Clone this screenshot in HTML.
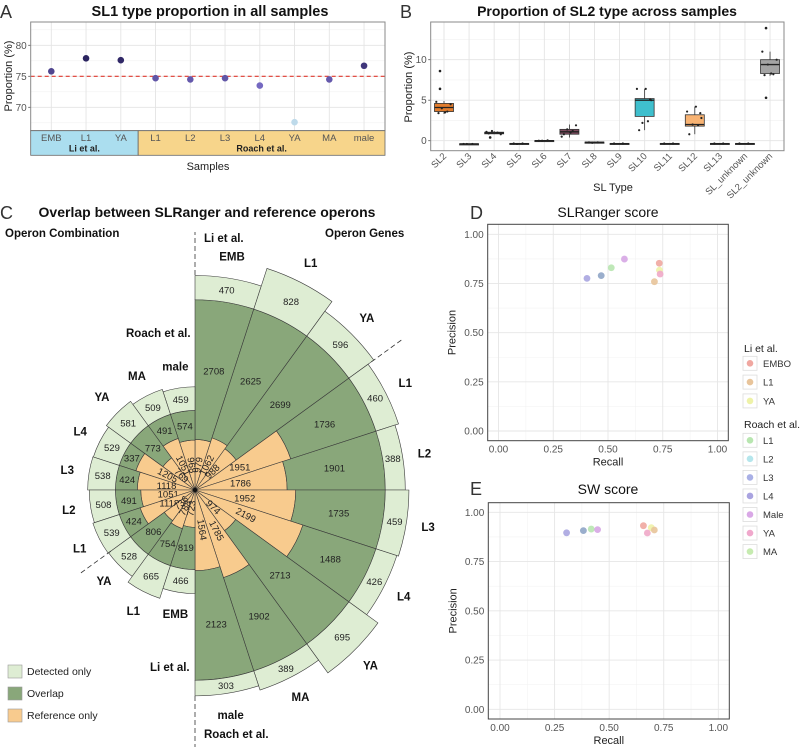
<!DOCTYPE html>
<html><head><meta charset="utf-8"><title>SLRanger figure</title>
<style>
html,body{margin:0;padding:0;background:#fff;}
svg{display:block;font-family:"Liberation Sans",Arial,sans-serif;}
</style></head>
<body>
<svg id="fig" width="800" height="747" viewBox="0 0 800 747">
  <text x="0" y="18" font-size="18" fill="#333">A</text>
  <text x="210" y="16" font-size="14.5" font-weight="bold" text-anchor="middle" fill="#111">SL1 type proportion in all samples</text>
  <text x="208" y="170" font-size="11" text-anchor="middle" fill="#222">Samples</text>
  <text transform="translate(12,76) rotate(-90)" font-size="11" text-anchor="middle" fill="#222">Proportion (%)</text>

  <text x="400" y="18" font-size="18" fill="#333">B</text>
  <text x="607" y="16" font-size="14" font-weight="bold" text-anchor="middle" fill="#111">Proportion of SL2 type across samples</text>
  <text x="613" y="191" font-size="11" text-anchor="middle" fill="#222">SL Type</text>
  <text transform="translate(412,87) rotate(-90)" font-size="11" text-anchor="middle" fill="#222">Proportion (%)</text>

  <text x="0" y="219" font-size="18" fill="#333">C</text>
  <text x="207" y="217" font-size="14" font-weight="bold" text-anchor="middle" fill="#111">Overlap between SLRanger and reference operons</text>
  <text x="5" y="237" font-size="11.5" font-weight="bold" fill="#111">Operon Combination</text>
  <text x="325" y="237" font-size="11.5" font-weight="bold" fill="#111">Operon Genes</text>
  <text x="204" y="242" font-size="11.5" font-weight="bold" fill="#111">Li et al.</text>
  <text x="126" y="337" font-size="11.5" font-weight="bold" fill="#111">Roach et al.</text>
  <text x="150" y="671" font-size="11.5" font-weight="bold" fill="#111">Li et al.</text>
  <text x="204" y="738" font-size="11.5" font-weight="bold" fill="#111">Roach et al.</text>

  <g>
    <rect x="8" y="665" width="14" height="13" fill="#deedd3" stroke="#999" stroke-width="0.6"/>
    <text x="27" y="675" font-size="10.5" fill="#222">Detected only</text>
    <rect x="8" y="687" width="14" height="13" fill="#89a77a" stroke="#999" stroke-width="0.6"/>
    <text x="27" y="697" font-size="10.5" fill="#222">Overlap</text>
    <rect x="8" y="709" width="14" height="13" fill="#f8cb8e" stroke="#999" stroke-width="0.6"/>
    <text x="27" y="719" font-size="10.5" fill="#222">Reference only</text>
  </g>

  <text x="470" y="219" font-size="18" fill="#333">D</text>
  <text x="608" y="217" font-size="14" text-anchor="middle" fill="#111">SLRanger score</text>
  <text x="470" y="495" font-size="18" fill="#333">E</text>
  <text x="608" y="494" font-size="14" text-anchor="middle" fill="#111">SW score</text>
</svg>
<script>
// ---------- Panel A data ----------
const aSamples = ['EMB','L1','YA','L1','L2','L3','L4','YA','MA','male'];
const aValues = [75.8, 77.9, 77.6, 74.7, 74.5, 74.7, 73.5, 67.6, 74.5, 76.7];
const aYTicks = [70, 75, 80];
const aGroups = ['Li et al.', 'Roach et al.'];
const aGroupCounts = [3, 7];
const aRefLine = 75;

// ---------- Panel B data ----------
const bCats = ['SL2','SL3','SL4','SL5','SL6','SL7','SL8','SL9','SL10','SL11','SL12','SL13','SL_unknown','SL2_unknown'];
const bMin = [3.3, -0.45, 0.8, -0.4, -0.05, 0.4, -0.25, -0.4, 1.3, -0.4, 0.8, -0.4, -0.4, 8.0];
const bQ1  = [3.6, -0.42, 0.85, -0.38, -0.02, 0.8, -0.22, -0.38, 3.0, -0.38, 1.8, -0.38, -0.38, 8.3];
const bMed = [4.1, -0.4, 0.95, -0.36, 0.0, 1.1, -0.2, -0.36, 5.0, -0.36, 2.0, -0.36, -0.36, 9.4];
const bQ3  = [4.6, -0.38, 1.05, -0.33, 0.03, 1.4, -0.17, -0.33, 5.2, -0.33, 3.2, -0.33, -0.33, 10.0];
const bMax = [4.9, -0.35, 1.2, -0.3, 0.07, 2.0, -0.15, -0.3, 6.4, -0.3, 4.2, -0.3, -0.3, 11.0];
const bOutliers = [[6.4, 8.6],[],[0.4],[],[],[],[],[],[],[],[],[],[],[5.3, 13.9]];
const bPoints = [[3.4,3.6,4.0,4.5,4.8,3.5],[-0.4,-0.4,-0.4],[0.9,1.0,1.2,0.8,1.1],[-0.35,-0.35,-0.4],[0.0,0.05,0.0],[0.8,1.2,1.4,1.9,0.5,1.0],[-0.2,-0.2,-0.25],[-0.35,-0.35],[1.3,2.4,2.2,5.0,6.4,6.4,5.1],[-0.35,-0.35],[0.8,1.9,2.0,2.8,3.6,4.2,3.4],[-0.35,-0.35],[-0.35,-0.35],[8.1,8.2,9.4,10.0,11.0,8.3]];
const bFill = ['#e17c2d','#555','#666','#555','#555','#7d4b5e','#555','#555','#3fbfcd','#555','#f8b373','#555','#555','#a4a4a4'];
const bYTicks = [0, 5, 10];

// ---------- Panel C data ----------
const cGeneSamples = ['EMB','L1','YA','L1','L2','L3','L4','YA','MA','male'];
const cGeneRef = [979, 1062, 988, 1951, 1786, 1952, 2199, 974, 1785, 1564];
const cGeneOverlap = [2708, 2625, 2699, 1736, 1901, 1735, 1488, 2713, 1902, 2123];
const cGeneDetected = [470, 828, 596, 460, 388, 459, 426, 695, 389, 303];
const cCombSamples = ['male','MA','YA','L4','L3','L2','L1','YA','L1','EMB'];
const cCombRef = [968, 1051, 769, 1205, 1118, 1051, 1118, 736, 788, 723];
const cCombOverlap = [574, 491, 773, 337, 424, 491, 424, 806, 754, 819];
const cCombDetected = [459, 509, 581, 529, 538, 508, 539, 528, 665, 466];

// ---------- Panels D/E data ----------
const legendLi = ['EMBO','L1','YA'];
const legendRoach = ['L1','L2','L3','L4','Male','YA','MA'];
const dRecall = [0.404, 0.469, 0.515, 0.575, 0.734, 0.735, 0.738, 0.712];
const dPrecision = [0.776, 0.790, 0.830, 0.874, 0.853, 0.818, 0.798, 0.759];
const eRecall = [0.305, 0.382, 0.418, 0.447, 0.657, 0.693, 0.675, 0.707];
const ePrecision = [0.896, 0.907, 0.915, 0.912, 0.932, 0.922, 0.895, 0.910];
const pointSeries = ['Roach L4','Roach L3','Roach MA','Roach Male','Li EMBO','Li YA','Roach YA','Li L1'];
const dTicks = [0, 0.25, 0.5, 0.75, 1];

const NS = 'http://www.w3.org/2000/svg';
const svg = document.getElementById('fig');
function mk(parent, tag, attrs, text) {
  const e = document.createElementNS(NS, tag);
  for (const k in attrs) e.setAttribute(k, attrs[k]);
  if (text !== undefined) e.textContent = text;
  parent.appendChild(e);
  return e;
}
function grp(name) {
  const g = mk(svg, 'g', {});
  
  
  return g;
}
function hex(c){return [parseInt(c.slice(1,3),16),parseInt(c.slice(3,5),16),parseInt(c.slice(5,7),16)];}
function lerpCol(a,b,t){const A=hex(a),B=hex(b);return 'rgb('+A.map((v,i)=>Math.round(v+(B[i]-v)*t)).join(',')+')';}

// ================= Panel A =================
(function(){
  const g = grp('panel-a-chart');
  const L=30.7, R=385, T=22, B=130.7;
  const xA = i => 51.3 + i*34.75;
  const yA = v => 45.3 + (80 - v)*6.2;
  let el = mk(g,'rect',{x:L,y:T,width:R-L,height:B-T,fill:'#fff'});
  
  
  [67.5,72.5,77.5,82.5].forEach(v=>{
    const l = mk(g,'line',{x1:L,x2:R,y1:yA(v),y2:yA(v),stroke:'#f2f2f2','stroke-width':0.6});
    
    
  });
  aYTicks.forEach(v=>{
    const l = mk(g,'line',{x1:L,x2:R,y1:yA(v),y2:yA(v),stroke:'#e4e4e4','stroke-width':0.9});
    
    
    const t = mk(g,'text',{x:L-4,y:yA(v)+3.5,'font-size':10,'text-anchor':'end',fill:'#555'},String(v));
    
    
    const tk = mk(g,'line',{x1:L-2.5,x2:L,y1:yA(v),y2:yA(v),stroke:'#555','stroke-width':0.8});
    
    
  });
  aSamples.forEach((s,i)=>{
    const l = mk(g,'line',{x1:xA(i),x2:xA(i),y1:T,y2:B,stroke:'#e4e4e4','stroke-width':0.9});
    
    
  });
  const ref = mk(g,'line',{x1:L,x2:R,y1:yA(aRefLine),y2:yA(aRefLine),stroke:'#e0392f','stroke-width':1.1,'stroke-dasharray':'4,3'});
  
  
  aValues.forEach((v,i)=>{
    let t=(v-67)/(78-67); t=Math.max(0,Math.min(1,t));
    const col = t<0.6 ? lerpCol('#c5e6ee','#7467c0',t/0.6) : lerpCol('#7467c0','#29225e',(t-0.6)/0.4);
    const c = mk(g,'circle',{cx:xA(i),cy:yA(v),r:3.3,fill:col});
    
    
  });
  const border = mk(g,'rect',{x:L,y:T,width:R-L,height:B-T,fill:'none',stroke:'#8a8a8a','stroke-width':1});
  
  
  // strip
  let start=0;
  const stripFill=['#abdeef','#f7d58b'];
  aGroups.forEach((gname,gi)=>{
    const x0 = gi===0 ? L : xA(start)-34.75/2;
    const x1 = gi===aGroups.length-1 ? R : xA(start+aGroupCounts[gi])-34.75/2;
    const r = mk(g,'rect',{x:x0,y:B,width:x1-x0,height:24.6,fill:stripFill[gi],stroke:'#666','stroke-width':0.8});
    
    
    const t = mk(g,'text',{x:(x0+x1)/2,y:B+21,'font-size':9,'font-weight':'bold','text-anchor':'middle',fill:'#222'},gname);
    
    
    start += aGroupCounts[gi];
  });
  aSamples.forEach((s,i)=>{
    const t = mk(g,'text',{x:xA(i),y:B+10.5,'font-size':9.5,'text-anchor':'middle',fill:'#555'},s);
    
    
  });
})();

// ================= Panel B =================
(function(){
  const g = grp('panel-b-chart');
  const L=430.7, R=784, T=22, B=150.7;
  const xB = i => 444 + i*25.08;
  const yB = v => 140.7 - v*8.1;
  const bg = mk(g,'rect',{x:L,y:T,width:R-L,height:B-T,fill:'#fff'});
  
  
  [2.5,7.5,12.5].forEach(v=>{
    const l = mk(g,'line',{x1:L,x2:R,y1:yB(v),y2:yB(v),stroke:'#f2f2f2','stroke-width':0.6});
    
    
  });
  bYTicks.forEach(v=>{
    const l = mk(g,'line',{x1:L,x2:R,y1:yB(v),y2:yB(v),stroke:'#e4e4e4','stroke-width':0.9});
    
    
    const t = mk(g,'text',{x:L-4,y:yB(v)+3.5,'font-size':10,'text-anchor':'end',fill:'#555'},String(v));
    
    
    const tk = mk(g,'line',{x1:L-2.5,x2:L,y1:yB(v),y2:yB(v),stroke:'#555','stroke-width':0.8});
    
    
  });
  bCats.forEach((c,i)=>{
    const l = mk(g,'line',{x1:xB(i),x2:xB(i),y1:T,y2:B,stroke:'#e4e4e4','stroke-width':0.9});
    
    
  });
  const jit = [-5,3,-2,6,-7,1,5,-4];
  bCats.forEach((c,i)=>{
    const x=xB(i), w=19;
    const wl = mk(g,'line',{x1:x,x2:x,y1:yB(bMax[i]),y2:yB(bMin[i]),stroke:'#333','stroke-width':0.8});
    
    
    const bx = mk(g,'rect',{x:x-w/2,y:yB(bQ3[i]),width:w,height:Math.max(1.2,yB(bQ1[i])-yB(bQ3[i])),fill:bFill[i],stroke:'#333','stroke-width':0.8});
    
    
    const md = mk(g,'line',{x1:x-w/2,x2:x+w/2,y1:yB(bMed[i]),y2:yB(bMed[i]),stroke:'#222','stroke-width':1.3});
    
    
    bOutliers[i].forEach(v=>{
      const o = mk(g,'circle',{cx:x-4,cy:yB(v),r:1.3,fill:'#222'});
      
      
    });
    bPoints[i].forEach((v,k)=>{
      const p = mk(g,'circle',{cx:x+jit[k%jit.length]*1.1,cy:yB(v),r:1.1,fill:'#222'});
      
      
    });
    const t = mk(g,'text',{transform:'translate('+(x+3)+','+(B+6)+') rotate(-45)','font-size':9.5,'text-anchor':'end',fill:'#555'},c);
    
    
  });
  const border = mk(g,'rect',{x:L,y:T,width:R-L,height:B-T,fill:'none',stroke:'#8a8a8a','stroke-width':1});
  
  
})();

// ================= Panel C (polar) =================
(function(){
  const g = grp('panel-c-polar-chart');
  const cx=195, cy=490, k=0.0516;
  const P=(r,a)=>{const t=a*Math.PI/180;return [cx+r*Math.cos(t), cy-r*Math.sin(t)];};
  function sector(r0,r1,a0,a1){
    const sw = a1<a0 ? 1 : 0;
    const p1=P(r1,a0), p2=P(r1,a1);
    let d='M'+P(r0,a0).join(',')+' L'+p1.join(',')+' A'+r1+','+r1+' 0 0 '+sw+' '+p2.join(',');
    if(r0>0){const p3=P(r0,a1),p4=P(r0,a0); d+=' L'+p3.join(',')+' A'+r0+','+r0+' 0 0 '+(1-sw)+' '+p4.join(',');}
    return d+' Z';
  }
  const colors=['#f8cb8e','#89a77a','#deedd3'];
  const layerNames=['reference','overlap','detected'];
  const rotRight=[true,true,true,false,false,false,true,true,true,true];
  const rotLeft=[true,true,true,true,false,false,false,true,true,true];
  function half(samples, ref, ov, det, side, rotFlags){
    samples.forEach((s,i)=>{
      const a0 = side==='right' ? 90-18*i : 90+18*i;
      const a1 = side==='right' ? 72-18*i : 108+18*i;
      const mid=(a0+a1)/2;
      const vals=[ref[i],ov[i],det[i]];
      let cum=0;
      vals.forEach((v,j)=>{
        const r0=cum*k; cum+=v; const r1=cum*k;
        const p = mk(g,'path',{d:sector(r0,r1,a0,a1),fill:colors[j],stroke:'#3a3a3a','stroke-width':0.6});
        
        
        const rm=(r0+r1)/2; const q=P(rm,mid);
        let tr='';
        if(j===0 && rotFlags[i]){
          let rot = side==='right' ? -mid : 180-mid;
          tr=' rotate('+rot+','+q[0]+','+q[1]+')';
        }
        const t = mk(g,'text',{x:q[0],y:q[1]+3.5,'font-size':9.5,'text-anchor':'middle',fill:'#222',transform:tr.trim()},String(v));
        if(tr){t.setAttribute('y',q[1]); t.setAttribute('dominant-baseline','central');}
        
        
      });
      const lq=P(cum*k+22,mid);
      const lt = mk(g,'text',{x:lq[0],y:lq[1]+4,'font-size':11.5,'font-weight':'bold','text-anchor':'middle',fill:'#111'},s);
      
      
    });
  }
  half(cGeneSamples,cGeneRef,cGeneOverlap,cGeneDetected,'right',rotRight);
  half(cCombSamples,cCombRef,cCombOverlap,cCombDetected,'left',rotLeft);
  const dot = mk(g,'circle',{cx:cx,cy:cy,r:2.2,fill:'#111'});
  
  
  function dash(r0,r1,a,name){
    const p=P(r0,a),q=P(r1,a);
    const l = mk(g,'line',{x1:p[0],y1:p[1],x2:q[0],y2:q[1],stroke:'#333','stroke-width':0.8,'stroke-dasharray':'5,3'});
    
    
  }
  dash(215,258,90,'divider-top');
  dash(206,257,-90,'divider-bottom');
  dash(218,256,36,'divider-right-li-roach');
  dash(104,142,216,'divider-left-li-roach');
})();

// ================= Panels D & E =================
function scatter(name, L,R,T,B, x0,x1, y0,y1, rec, prec){
  const g = grp(name);
  const xs=v=>x0+v*(x1-x0), ys=v=>y0+v*(y1-y0);
  const bg = mk(g,'rect',{x:L,y:T,width:R-L,height:B-T,fill:'#fff'});
  
  
  [0.125,0.375,0.625,0.875].forEach(v=>{
    const a = mk(g,'line',{x1:L,x2:R,y1:ys(v),y2:ys(v),stroke:'#f3f3f3','stroke-width':0.6});
    
    
    const b = mk(g,'line',{x1:xs(v),x2:xs(v),y1:T,y2:B,stroke:'#f3f3f3','stroke-width':0.6});
    
    
  });
  dTicks.forEach(v=>{
    const a = mk(g,'line',{x1:L,x2:R,y1:ys(v),y2:ys(v),stroke:'#e6e6e6','stroke-width':0.9});
    
    
    const b = mk(g,'line',{x1:xs(v),x2:xs(v),y1:T,y2:B,stroke:'#e6e6e6','stroke-width':0.9});
    
    
    const ty = mk(g,'text',{x:L-4,y:ys(v)+3.5,'font-size':10,'text-anchor':'end',fill:'#555'},v.toFixed(2));
    
    
    const tx = mk(g,'text',{x:xs(v),y:B+12,'font-size':10,'text-anchor':'middle',fill:'#555'},v.toFixed(2));
    
    
  });
  const cols=['#a9a5e0','#8fa5c6','#b8e6b0','#d6a6e4','#f0a7a0','#eef2a8','#f0a8c8','#e8c49a'];
  rec.forEach((v,i)=>{
    const c = mk(g,'circle',{cx:xs(v),cy:ys(prec[i]),r:3.4,fill:cols[i],opacity:0.9});
    
    
  });
  const border = mk(g,'rect',{x:L,y:T,width:R-L,height:B-T,fill:'none',stroke:'#444','stroke-width':1});
  
  
  const xt = mk(g,'text',{x:(L+R)/2,y:B+25,'font-size':11,'text-anchor':'middle',fill:'#222'},'Recall');
  
  
  const yt = mk(g,'text',{transform:'translate('+(L-32)+','+((T+B)/2)+') rotate(-90)','font-size':11,'text-anchor':'middle',fill:'#222'},'Precision');
  
  
}
scatter('panel-d',487.7,728.3,224.3,440.7,498.5,717.5,431,234.3,dRecall,dPrecision);
scatter('panel-e',488.3,729.3,502.7,719,500,718.3,709.3,512.3,eRecall,ePrecision);

// legend
(function(){
  const g = grp('panel-de-legend');
  const liCols=['#f0a7a0','#e8c49a','#eef2a8'];
  const roCols=['#b8e6b0','#b5e6ec','#a9b0e6','#a9a3e0','#d9a8e6','#f0a8cc','#c6ebb0'];
  const h1 = mk(g,'text',{x:744,y:352,'font-size':10.5,fill:'#222'},'Li et al.');
  
  
  legendLi.forEach((s,i)=>{
    const y=363.3+i*18.8;
    const k = mk(g,'rect',{x:743,y:y-7,width:14,height:14,fill:'#fff',stroke:'#ddd','stroke-width':0.8});
    
    
    const c = mk(g,'circle',{cx:750,cy:y,r:3.3,fill:liCols[i]});
    
    
    const t = mk(g,'text',{x:763,y:y+3.5,'font-size':9.5,fill:'#333'},s);
    
    
  });
  const h2 = mk(g,'text',{x:744,y:428,'font-size':10.5,fill:'#222'},'Roach et al.');
  
  
  legendRoach.forEach((s,i)=>{
    const y=440.3+i*18.55;
    const k = mk(g,'rect',{x:743,y:y-7,width:14,height:14,fill:'#fff',stroke:'#ddd','stroke-width':0.8});
    
    
    const c = mk(g,'circle',{cx:750,cy:y,r:3.3,fill:roCols[i]});
    
    
    const t = mk(g,'text',{x:763,y:y+3.5,'font-size':9.5,fill:'#333'},s);
    
    
  });
})();
</script>
</body></html>
